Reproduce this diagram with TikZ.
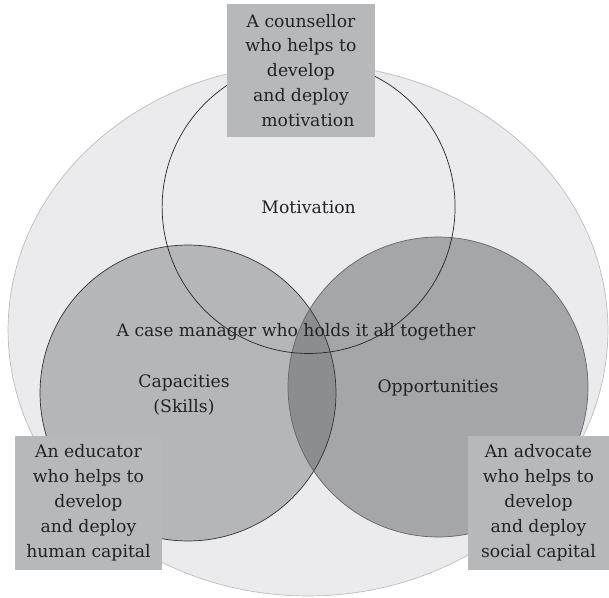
\documentclass[tikz,border=0pt]{standalone}
\usepackage{fontspec}
\setmainfont{DejaVu Serif}
\definecolor{outerfill}{HTML}{EBEBED}
\definecolor{outerline}{HTML}{BDBDBD}
\definecolor{capfill}{HTML}{B5B6B9}
\definecolor{oppfill}{HTML}{A5A6A9}
\definecolor{lensfill}{HTML}{8C8D90}
\definecolor{boxfill}{HTML}{B7B8BA}
\definecolor{txt}{HTML}{222222}

\begin{document}
\begin{tikzpicture}[x=0.02cm,y=-0.02cm,role/.style={rectangle, fill=boxfill, inner sep=0pt, align=center, text=txt, font=\fontsize{9.8}{14.2}\selectfont},ring/.style={circle, inner sep=0pt, minimum size=#1},label/.style={align=center, text=txt, font=\fontsize{9.8}{14.2}\selectfont}]
\useasboundingbox (0,0) rectangle (609,598);
% outer field and the three circles
\fill[outerfill, draw=outerline, line width=0.4pt] (308,330) ellipse [x radius=6cm, y radius=5.32cm];
\node[ring=5.92cm, fill=capfill] (cap) at (188,393) {};
\node[ring=6cm, fill=oppfill] (opp) at (438,387) {};
\begin{scope}
\clip (cap.center) circle (2.96cm);
\fill[lensfill] (opp.center) circle (3cm);
\end{scope}
\draw[black!80, line width=0.4pt] (cap.center) circle (2.96cm);
\draw[black!60, line width=0.4pt] (opp.center) circle (3cm);
\node[ring=5.86cm, draw=black!85, line width=0.4pt] (mot) at (308.6,207) {};
% texts
\node[label] (motlabel) at (mot.center) {Motivation};
\node[label] (caplabel) at (184,395) {Capacities\\(Skills)};
\node[label] (opplabel) at (438,388) {Opportunities};
\node[label] (manager) at (296,332) {A case manager who holds it all together};
% the three roles
\node[role, minimum width=2.96cm, minimum height=2.66cm] (counsellor) at (301,70.5) {A counsellor\\who helps to\\develop\\and deploy\\\hspace{0.8em}motivation};
\node[role, minimum width=2.94cm, minimum height=2.68cm] (educator) at (88.5,503) {An educator\\who helps to\\develop\\and deploy\\human capital};
\node[role, minimum width=2.82cm, minimum height=2.68cm] (advocate) at (538.5,503) {An advocate\\who helps to\\develop\\and deploy\\social capital};
\end{tikzpicture}
\end{document}
